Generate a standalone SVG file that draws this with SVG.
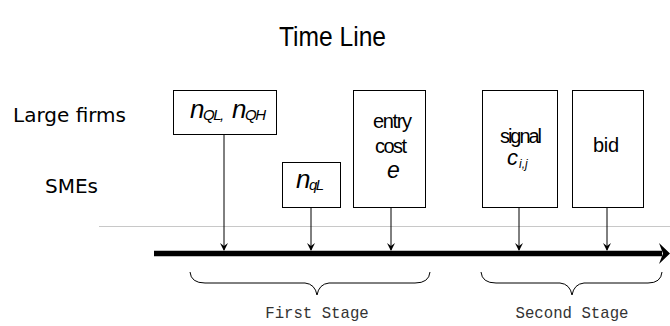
<svg xmlns="http://www.w3.org/2000/svg" width="670" height="326" viewBox="0 0 670 326">
<style>
.box{fill:#fff;stroke:#000;stroke-width:1}
.bt{font-family:"Liberation Sans",Arial,sans-serif;font-size:20px;fill:#000}
.m{font-family:"Liberation Sans",Arial,sans-serif;font-style:italic;fill:#000}
.sub{font-size:15px;letter-spacing:-1.5px}
.lab{font-family:"DejaVu Sans",sans-serif;font-size:20px;fill:#000}
.st{font-family:"Liberation Mono","Courier New",monospace;font-size:15.7px;fill:#333}
.conn{stroke:#000;stroke-width:1;fill:none}
.brace{stroke:#000;stroke-width:1;fill:none}
</style>
<defs>
<marker id="ah2" markerWidth="8" markerHeight="10" refX="4" refY="9" orient="0" markerUnits="userSpaceOnUse" viewBox="0 0 8 10">
<path d="M0,2 L4,10 L8,2 L4,5 Z" fill="#000"/>
</marker>
</defs>
<text x="279" y="46" font-family="Liberation Sans,Arial,sans-serif" font-size="28" textLength="107" lengthAdjust="spacingAndGlyphs">Time Line</text>
<text class="lab" x="13" y="122">Large firms</text>
<text class="lab" x="45" y="193">SMEs</text>
<line x1="99" y1="226.5" x2="670" y2="226.5" stroke="#c8c8c8" stroke-width="1"/>
<g id="connectors">
<line class="conn" x1="224" y1="135" x2="224" y2="250" marker-end="url(#ah2)"/>
<line class="conn" x1="311" y1="208" x2="311" y2="250" marker-end="url(#ah2)"/>
<line class="conn" x1="391" y1="208" x2="391" y2="250" marker-end="url(#ah2)"/>
<line class="conn" x1="519" y1="208" x2="519" y2="250" marker-end="url(#ah2)"/>
<line class="conn" x1="607" y1="208" x2="607" y2="250" marker-end="url(#ah2)"/>
</g>
<g id="timeline">
<line x1="154" y1="253.5" x2="662" y2="253.5" stroke="#000" stroke-width="5.5"/>
<path d="M659,243 L670,253.5 L659,264 L663,253.5 Z" fill="#000"/>
</g>
<g id="node-large">
<rect class="box" x="173.5" y="90.5" width="103" height="44"/>
<text class="m" font-size="26" x="190" y="118">n</text>
<text class="m sub" x="203" y="120">QL,</text>
<text class="m" font-size="26" x="232" y="118">n</text>
<text class="m sub" x="245" y="120">QH</text>
</g>
<g id="node-sme">
<rect class="box" x="282.5" y="162.5" width="58" height="45"/>
<text class="m" font-size="26" x="296" y="188">n</text>
<text class="m sub" x="309" y="190">qL</text>
</g>
<g id="node-entry">
<rect class="box" x="353.5" y="90.5" width="72" height="117"/>
<text class="bt" x="373" y="128" textLength="39" lengthAdjust="spacing">entry</text>
<text class="bt" x="375" y="153" textLength="32" lengthAdjust="spacing">cost</text>
<text class="m" x="387" y="178" font-size="23">e</text>
</g>
<g id="node-signal">
<rect class="box" x="482.5" y="90.5" width="75" height="117"/>
<text class="bt" x="500" y="143" textLength="42" lengthAdjust="spacing">signal</text>
<text class="m" font-size="22" x="507" y="165">c</text>
<text class="m" font-size="12" x="519" y="168">i,j</text>
</g>
<g id="node-bid">
<rect class="box" x="572.5" y="90.5" width="71" height="117"/>
<text class="bt" x="593" y="152" textLength="26" lengthAdjust="spacing">bid</text>
</g>
<g id="brace-first">
<path class="brace" d="M190,272 Q191,283 205,283 L305,283 Q315,284 317,295 Q319,284 329,283 L415,283 Q429,283 430,272"/>
<text class="st" x="317" y="318" text-anchor="middle">First Stage</text>
</g>
<g id="brace-second">
<path class="brace" d="M481,272 Q482,283 496,283 L560,283 Q570,284 572,295 Q574,284 584,283 L648,283 Q661,283 662,272"/>
<text class="st" x="572" y="318" text-anchor="middle">Second Stage</text>
</g>
</svg>
